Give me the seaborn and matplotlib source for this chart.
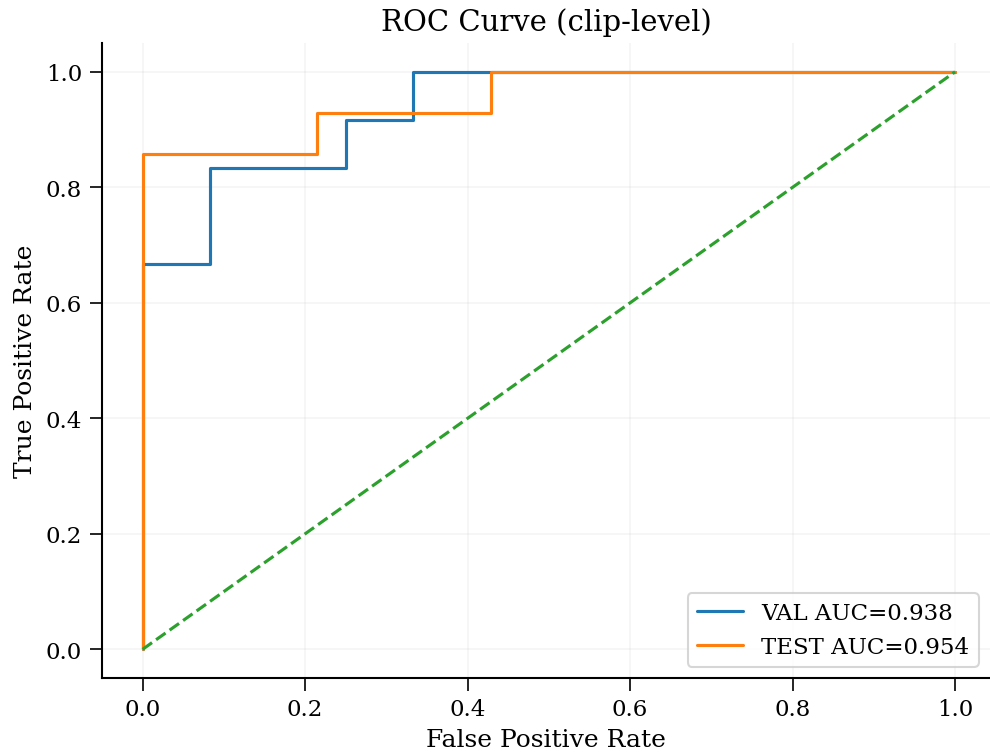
import matplotlib
matplotlib.use("Agg")
import matplotlib.pyplot as plt
import seaborn as sns
import pandas as pd

val_fpr = [0.0, 0.0, 1/12, 1/12, 3/12, 3/12, 4/12, 4/12, 1.0]
val_tpr = [0.0, 8/12, 8/12, 10/12, 10/12, 11/12, 11/12, 1.0, 1.0]
test_fpr = [0.0, 0.0, 3/14, 3/14, 6/14, 6/14, 1.0]
test_tpr = [0.0, 12/14, 12/14, 13/14, 13/14, 1.0, 1.0]
val_label = "VAL AUC=0.938"
test_label = "TEST AUC=0.954"
chance = [0.0, 1.0]

sns.set_theme(style="ticks", rc={
    "text.color": "black", "axes.labelcolor": "black", "axes.edgecolor": "black",
    "xtick.color": "black", "ytick.color": "black", "axes.linewidth": 1.0,
    "xtick.major.width": 0.8, "ytick.major.width": 0.8,
})
plt.rcParams['font.family'] = ['DejaVu Serif']

fig = plt.figure(figsize=(6.6, 5.02), dpi=150)
ax = fig.add_axes([0.103, 0.098, 0.897, 0.8436])

df_val = pd.DataFrame({"fpr": val_fpr, "tpr": val_tpr})
df_test = pd.DataFrame({"fpr": test_fpr, "tpr": test_tpr})
df_ch = pd.DataFrame({"fpr": chance, "tpr": chance})

sns.lineplot(data=df_val, x="fpr", y="tpr", sort=False, estimator=None, ax=ax,
             color="#1f77b4", lw=1.5, label=val_label)
sns.lineplot(data=df_test, x="fpr", y="tpr", sort=False, estimator=None, ax=ax,
             color="#ff7f0e", lw=1.5, label=test_label)
sns.lineplot(data=df_ch, x="fpr", y="tpr", sort=False, estimator=None, ax=ax,
             color="#2ca02c", lw=1.5, linestyle="--")

ax.set_xlim(-0.05, 1.043)
ax.set_ylim(-0.05, 1.05)
ax.set_xticks([0, 0.2, 0.4, 0.6, 0.8, 1.0])
ax.set_yticks([0, 0.2, 0.4, 0.6, 0.8, 1.0])
ax.tick_params(labelsize=11)
ax.grid(True, alpha=0.2, lw=0.8)
ax.set_xlabel("False Positive Rate", fontsize=12)
ax.set_ylabel("True Positive Rate", fontsize=12)
ax.set_title("ROC Curve (clip-level)", fontsize=14)
sns.despine(ax=ax)
ax.legend(loc="lower right", fontsize=11, frameon=True)

fig.savefig("out.png", dpi=150)
